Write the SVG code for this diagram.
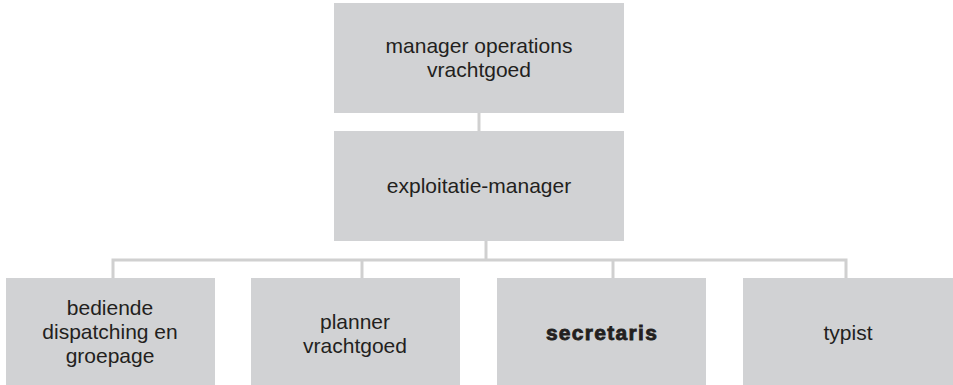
<svg xmlns="http://www.w3.org/2000/svg" width="953" height="385" viewBox="0 0 953 385">
<style>
.box{fill:#d1d2d4}
.t{font-family:"Liberation Sans",Arial,sans-serif;font-size:21px;fill:#231f20;text-anchor:middle}
.b{font-weight:bold;letter-spacing:1.3px;stroke:#231f20;stroke-width:0.8px}
.c{stroke:#d0d0d0;stroke-width:3;fill:none}
</style>
<rect width="953" height="385" fill="#fff"/>
<g id="connectors">
<line class="c" x1="479" y1="113" x2="479" y2="131"/>
<line class="c" x1="486" y1="241" x2="486" y2="260"/>
<polyline class="c" points="113,278 113,260 846,260 846,278"/>
<line class="c" x1="362" y1="260" x2="362" y2="278"/>
<line class="c" x1="613" y1="260" x2="613" y2="278"/>
</g>
<g id="manager-operations">
<rect class="box" x="334" y="3" width="290" height="110"/>
<text class="t" x="479" y="53">manager operations</text>
<text class="t" x="479" y="77">vrachtgoed</text>
</g>
<g id="exploitatie-manager">
<rect class="box" x="334" y="131" width="290" height="110"/>
<text class="t" x="479" y="193">exploitatie-manager</text>
</g>
<g id="bediende">
<rect class="box" x="6" y="278" width="209" height="107"/>
<text class="t" x="110" y="315">bediende</text>
<text class="t" x="110" y="339">dispatching en</text>
<text class="t" x="110" y="363">groepage</text>
</g>
<g id="planner">
<rect class="box" x="251" y="278" width="209" height="107"/>
<text class="t" x="355" y="329">planner</text>
<text class="t" x="355" y="353">vrachtgoed</text>
</g>
<g id="secretaris">
<rect class="box" x="497" y="278" width="209" height="107"/>
<text class="t b" x="602" y="340">secretaris</text>
</g>
<g id="typist">
<rect class="box" x="743" y="278" width="210" height="107"/>
<text class="t" x="848" y="340">typist</text>
</g>
</svg>
